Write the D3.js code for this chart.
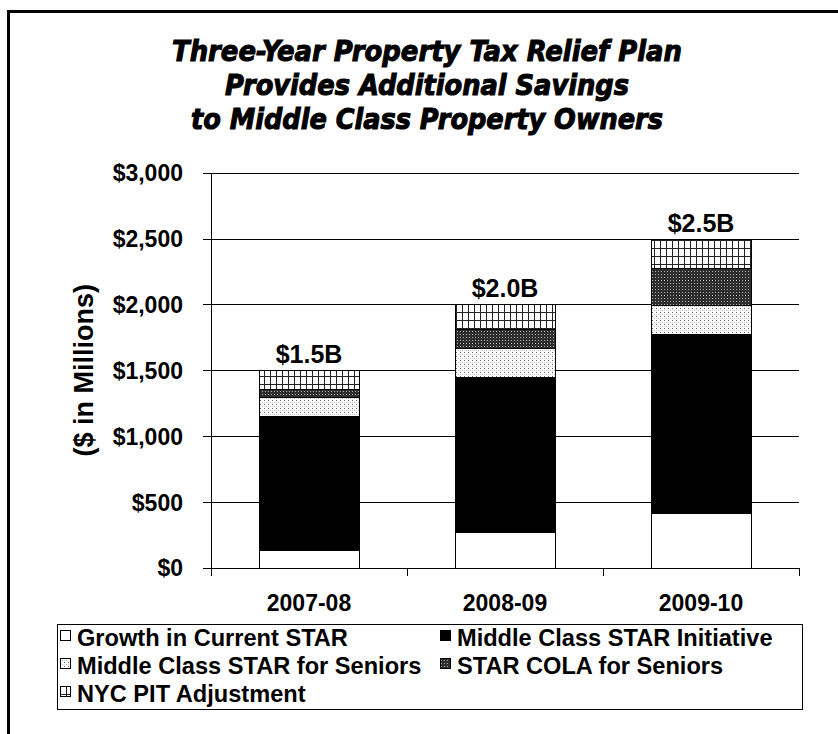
<!DOCTYPE html>
<html>
<head>
<meta charset="utf-8">
<script src="https://cdn.jsdelivr.net/npm/d3@7"></script>
<style>
  html, body { margin: 0; padding: 0; background: #fff; }
  svg { display: block; }
  text { font-family: "Liberation Sans", Arial, sans-serif; font-weight: bold; fill: #000; }
</style>
</head>
<body>
<svg id="chart" width="838" height="734"></svg>
<script>
// Fiscal years on the category axis
const years = ["2007-08", "2008-09", "2009-10"];

// Series names, bottom of the stack first ($ in millions)
const seriesNames = [
  "Growth in Current STAR",
  "Middle Class STAR Initiative",
  "Middle Class STAR for Seniors",
  "STAR COLA for Seniors",
  "NYC PIT Adjustment"
];
const growthCurrentStar     = [135, 270, 416];
const middleClassInitiative = [1017, 1181, 1359];
const middleClassSeniors    = [142, 215, 220];
const colaForSeniors        = [61, 147, 283];
const nycPitAdjustment      = [145, 187, 222];

// Totals written above each bar
const totalLabels = ["$1.5B", "$2.0B", "$2.5B"];

// Value axis ticks
const yTicks = [0, 500, 1000, 1500, 2000, 2500, 3000];

const titleLines = [
  "Three-Year Property Tax Relief Plan",
  "Provides Additional Savings",
  "to Middle Class Property Owners"
];
const yAxisTitle = "($ in Millions)";

// ---- table for the stack ----
const seriesValues = [growthCurrentStar, middleClassInitiative, middleClassSeniors, colaForSeniors, nycPitAdjustment];
const rows = years.map((yr, i) => {
  const r = { year: yr };
  seriesNames.forEach((s, k) => { r[s] = seriesValues[k][i]; });
  return r;
});
const stacked = d3.stack().keys(seriesNames)(rows);

const svg = d3.select("#chart");

// ---- fill patterns ----
const defs = svg.append("defs");

const pSeniors = defs.append("pattern").attr("id", "pat-seniors")
  .attr("patternUnits", "userSpaceOnUse").attr("width", 4).attr("height", 4);
pSeniors.append("rect").attr("width", 4).attr("height", 4).attr("fill", "#fff");
pSeniors.append("rect").attr("x", 0).attr("y", 0).attr("width", 1).attr("height", 1).attr("fill", "#666");
pSeniors.append("rect").attr("x", 2).attr("y", 2).attr("width", 1).attr("height", 1).attr("fill", "#bbb");
pSeniors.append("rect").attr("x", 0).attr("y", 2).attr("width", 1).attr("height", 1).attr("fill", "#d4d4d4");

const pCola = defs.append("pattern").attr("id", "pat-cola")
  .attr("patternUnits", "userSpaceOnUse").attr("width", 3).attr("height", 3);
pCola.append("rect").attr("width", 3).attr("height", 3).attr("fill", "#2e2e2e");
pCola.append("rect").attr("x", 1).attr("y", 1).attr("width", 1).attr("height", 1).attr("fill", "#b0b0b0");

const pPit = defs.append("pattern").attr("id", "pat-pit")
  .attr("patternUnits", "userSpaceOnUse").attr("width", 6).attr("height", 8);
pPit.append("rect").attr("width", 6).attr("height", 8).attr("fill", "#fff");
pPit.append("rect").attr("x", 0).attr("y", 0).attr("width", 1).attr("height", 8).attr("fill", "#222");
pPit.append("rect").attr("x", 0).attr("y", 0).attr("width", 6).attr("height", 1).attr("fill", "#222");

const fills = {
  "Growth in Current STAR": "#fff",
  "Middle Class STAR Initiative": "#000",
  "Middle Class STAR for Seniors": "url(#pat-seniors)",
  "STAR COLA for Seniors": "url(#pat-cola)",
  "NYC PIT Adjustment": "url(#pat-pit)"
};

// ---- outer frame (runs past the right and bottom edges) ----
svg.append("rect")
  .attr("x", 8.5).attr("y", 11.5).attr("width", 900).attr("height", 900)
  .attr("fill", "none").attr("stroke", "#000").attr("stroke-width", 3);

// ---- title ----
const titleWidths = [510, 404, 472];
const titleBaselines = [61, 95, 129];
svg.append("g").selectAll("text").data(titleLines).join("text")
  .attr("x", 427)
  .attr("y", (d, i) => titleBaselines[i])
  .attr("text-anchor", "middle")
  .attr("textLength", (d, i) => titleWidths[i])
  .attr("lengthAdjust", "spacingAndGlyphs")
  .style("font-family", "'DejaVu Sans Condensed', 'DejaVu Sans', sans-serif")
  .style("font-style", "italic")
  .style("font-weight", "bold")
  .style("font-size", "29px")
  .style("stroke", "#000")
  .style("stroke-width", "1px")
  .text(d => d);

// ---- scales ----
const plotLeft = 211, plotRight = 799, plotTop = 172.7, plotBottom = 567.7;
const x = d3.scaleBand().domain(years).range([plotLeft, plotRight])
  .paddingInner(0.49).paddingOuter(0.245);
const y = d3.scaleLinear().domain([0, 3000]).range([plotBottom, plotTop]);

// ---- gridlines ----
svg.append("g")
  .attr("transform", `translate(${plotLeft},0)`)
  .call(d3.axisLeft(y).tickValues(yTicks).tickSize(-(plotRight - plotLeft)).tickFormat(""))
  .call(g => g.select(".domain").remove())
  .call(g => g.selectAll("line").attr("stroke", "#000").attr("shape-rendering", "crispEdges"));

// ---- value axis ----
svg.append("g")
  .attr("transform", `translate(${plotLeft},0)`)
  .call(d3.axisLeft(y).tickValues(yTicks).tickSizeInner(8).tickSizeOuter(0).tickPadding(20)
    .tickFormat(d3.format("$,")))
  .call(g => g.select(".domain").attr("stroke", "#000").attr("shape-rendering", "crispEdges"))
  .call(g => g.selectAll("line").attr("stroke", "#000").attr("shape-rendering", "crispEdges"))
  .call(g => g.selectAll("text")
    .style("font-family", "'Liberation Sans', Arial, sans-serif")
    .style("font-weight", "bold")
    .style("font-size", "23px")
    .attr("dy", "0.36em"));

// ---- bars ----
svg.append("g").selectAll("g").data(stacked).join("g")
  .attr("fill", d => fills[d.key])
  .selectAll("rect").data(d => d).join("rect")
  .attr("x", d => Math.round(x(d.data.year)) + 0.5)
  .attr("width", Math.round(x.bandwidth()))
  .attr("y", d => Math.round(y(d[1])) + 0.5)
  .attr("height", d => Math.round(y(d[0])) - Math.round(y(d[1])))
  .attr("stroke", "#000")
  .attr("stroke-width", 1)
  .attr("shape-rendering", "crispEdges");

// ---- category axis: boundary ticks and labels ----
const step = x.step();
const firstEdge = x(years[0]) - x.paddingOuter() * step;
const edges = d3.range(years.length + 1).map(i => firstEdge + i * step);
svg.append("g").selectAll("line").data(edges).join("line")
  .attr("x1", d => Math.round(d) + 0.5).attr("x2", d => Math.round(d) + 0.5)
  .attr("y1", plotBottom).attr("y2", plotBottom + 8)
  .attr("stroke", "#000").attr("shape-rendering", "crispEdges");

svg.append("g").selectAll("text").data(years).join("text")
  .attr("x", d => x(d) + x.bandwidth() / 2)
  .attr("y", 611)
  .attr("text-anchor", "middle")
  .style("font-size", "23px")
  .text(d => d);

// ---- totals above bars ----
const lastLayer = stacked[stacked.length - 1];
svg.append("g").selectAll("text").data(lastLayer).join("text")
  .attr("x", d => x(d.data.year) + x.bandwidth() / 2)
  .attr("y", d => y(d[1]) - 7)
  .attr("text-anchor", "middle")
  .style("font-size", "25px")
  .text((d, i) => totalLabels[i]);

// ---- value axis title ----
svg.append("text")
  .attr("transform", `translate(83,${(plotTop + plotBottom) / 2}) rotate(-90)`)
  .attr("text-anchor", "middle")
  .attr("dy", "0.36em")
  .style("font-size", "27px")
  .text(yAxisTitle);

// ---- legend ----
const legend = svg.append("g");
legend.append("rect")
  .attr("x", 57.5).attr("y", 624.5).attr("width", 745).attr("height", 85)
  .attr("fill", "#fff").attr("stroke", "#000").attr("shape-rendering", "crispEdges");

const legendRows = [[0, 1], [2, 3], [4]];
const rowBaselines = [646, 674, 702];
legendRows.forEach((row, r) => {
  let cursor = 60;
  row.forEach((k, c) => {
    if (c === 1) cursor = Math.max(440, cursor + 4);
    const item = legend.append("g").attr("transform", `translate(${cursor},${rowBaselines[r]})`);
    item.append("rect")
      .attr("x", 0.5).attr("y", -15.5).attr("width", 10).attr("height", 10)
      .attr("fill", fills[seriesNames[k]]).attr("stroke", "#000")
      .attr("shape-rendering", "crispEdges");
    const t = item.append("text")
      .attr("x", 17).attr("y", 0)
      .style("font-size", "23.6px")
      .text(seriesNames[k]);
    cursor += 17 + t.node().getComputedTextLength();
  });
});
</script>
</body>
</html>
